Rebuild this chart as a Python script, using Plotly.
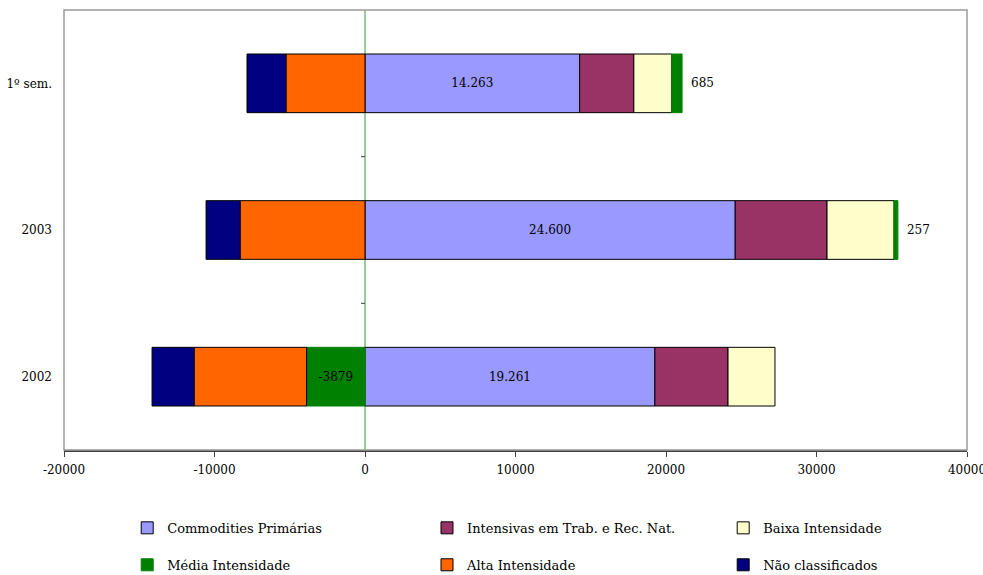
import plotly.graph_objects as go

# Categories (bottom to top)
periods = ["2002", "2003", "1º sem."]

# Trade balance by technological intensity (US$ million)
commodities = [19261, 24600, 14263]
intensivas = [4860, 6100, 3600]
baixa = [3120, 4450, 2520]
media = [-3879, 257, 685]
alta = [-7480, -8300, -5250]
nao_class = [-2790, -2260, -2590]

x_ticks = [-20000, -10000, 0, 10000, 20000, 30000, 40000]

FONT = "DejaVu Serif"


def br_thousands(v):
    return f"{v:,}".replace(",", ".")


fig = go.Figure()

outline = dict(color="black", width=1)
label_font = dict(color="black", size=12, family=FONT)

fig.add_trace(go.Bar(
    y=periods, x=commodities, orientation="h", name="Commodities Primárias",
    marker=dict(color="#9999FF", line=outline), legend="legend",
    text=[br_thousands(v) for v in commodities], textposition="inside",
    insidetextanchor="middle", textfont=label_font,
))
fig.add_trace(go.Bar(
    y=periods, x=intensivas, orientation="h", name="Intensivas em Trab. e Rec. Nat.",
    marker=dict(color="#993366", line=outline), legend="legend2",
))
fig.add_trace(go.Bar(
    y=periods, x=baixa, orientation="h", name="Baixa Intensidade",
    marker=dict(color="#FFFFCC", line=outline), legend="legend3",
))
# positive values sit outside the bar end, with a small leading gap
fig.add_trace(go.Bar(
    y=periods, x=media, orientation="h", name="Média Intensidade",
    marker=dict(color="#008000", line=dict(color="#008000", width=1)), legend="legend4",
    text=[str(v) if v < 0 else "\u2002" + str(v) for v in media],
    textposition=["inside" if v < 0 else "outside" for v in media],
    insidetextanchor="middle", cliponaxis=False, textfont=label_font,
))
fig.add_trace(go.Bar(
    y=periods, x=alta, orientation="h", name="Alta Intensidade",
    marker=dict(color="#FF6600", line=outline), legend="legend5",
))
fig.add_trace(go.Bar(
    y=periods, x=nao_class, orientation="h", name="Não classificados",
    marker=dict(color="#000080", line=outline), legend="legend6",
))

# plot-area frame, green vertical axis at zero and its category tick marks
shapes = [
    dict(type="line", xref="x", yref="paper", x0=0, x1=0, y0=0, y1=1,
         line=dict(color="#339933", width=1), layer="below"),
    dict(type="rect", xref="paper", yref="paper", x0=0, x1=1, y0=0, y1=1,
         line=dict(color="#9A9A9A", width=1.5), layer="above"),
]
for b in [0.5, 1.5]:
    shapes.append(dict(type="line", xref="x", yref="y", xsizemode="pixel",
                       xanchor=0, x0=-4, x1=0, y0=b, y1=b,
                       line=dict(color="#404040", width=1)))


def legend_box(x, y):
    return dict(
        x=x, y=y, xanchor="left", yanchor="middle", orientation="h",
        font=dict(size=13, family=FONT), itemclick=False, itemdoubleclick=False,
        bgcolor="rgba(0,0,0,0)",
    )


col_x = [0.070, 0.402, 0.730]
row_y = [-0.177, -0.261]

fig.update_layout(
    barmode="relative",
    bargap=0.6,
    width=983, height=575,
    margin=dict(l=64, r=16, t=10, b=125, autoexpand=False),
    paper_bgcolor="white", plot_bgcolor="white",
    font=dict(family=FONT, size=12, color="black"),
    showlegend=True,
    legend=legend_box(col_x[0], row_y[0]),
    legend2=legend_box(col_x[1], row_y[0]),
    legend3=legend_box(col_x[2], row_y[0]),
    legend4=legend_box(col_x[0], row_y[1]),
    legend5=legend_box(col_x[1], row_y[1]),
    legend6=legend_box(col_x[2], row_y[1]),
    shapes=shapes,
    uniformtext=dict(mode="show", minsize=8),
)

fig.update_xaxes(
    range=[-20000, 40000], tickvals=x_ticks, ticktext=[str(v) for v in x_ticks],
    showgrid=False, zeroline=False,
    showline=True, linecolor="#404040", linewidth=1.5,
    ticks="outside", ticklen=5, tickcolor="#404040", ticklabelstandoff=3,
    tickfont=dict(size=12, family=FONT), automargin=False,
    ticklabeloverflow="allow",
)
fig.update_yaxes(
    categoryorder="array", categoryarray=periods,
    showgrid=False, showline=False, ticks="", ticklabelstandoff=11,
    tickfont=dict(size=12, family=FONT), automargin=False,
)

fig.write_html("out.html")
